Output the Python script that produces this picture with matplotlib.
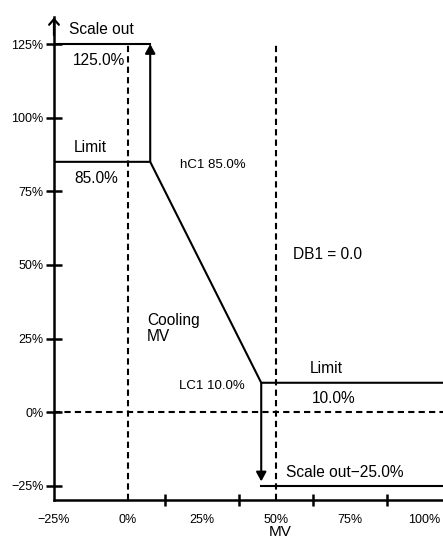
import matplotlib.pyplot as plt
import numpy as np

plt.rcParams['font.family'] = ['Liberation Sans', 'DejaVu Sans']

# Output limits and break points (MV in %)
mv_left, mv_right = -25.0, 106.4
limit_high = 85.0
limit_low = 10.0
scale_high = 125.0
scale_low = -25.0
mv_at_high = 7.5
mv_at_low = 45.0
dashed_x = [0.0, 50.0]

curve_x = [mv_left, mv_at_high, mv_at_low, mv_right]
curve_y = [limit_high, limit_high, limit_low, limit_low]

xtick_vals = [-25, 0, 25, 50, 75, 100]
xtick_labels = ['\u221225%', '0%', '25%', '50%', '75%', '100%']
xtick_marks = [12.5, 25, 37.5, 62.5, 75, 87.5, 100]
ytick_vals = [-25, 0, 25, 50, 75, 100, 125]
ytick_labels = ['\u221225%', '0%', '25%', '50%', '75%', '100%', '125%']

fig = plt.figure(figsize=(4.43, 5.43), dpi=100)
ax = fig.add_axes([54 / 443, 43 / 543, 1 - 54 / 443, (500 - 17.5) / 543])
ax.set_xlim(mv_left, mv_right)
ax.set_ylim(-29.8, 134)

lw = 1.5
# main output curve
ax.plot(curve_x, curve_y, color='black', lw=lw)
# scale out lines
ax.plot([mv_left, mv_at_high], [scale_high, scale_high], color='black', lw=lw)
ax.plot([mv_at_low, mv_right], [scale_low, scale_low], color='black', lw=lw)
# jump arrows
head = '-|>, head_length=0.55, head_width=0.3'
ax.annotate('', xy=(mv_at_high, scale_high), xytext=(mv_at_high, limit_high),
            arrowprops=dict(arrowstyle=head, color='black', lw=lw,
                            shrinkA=0, shrinkB=0, mutation_scale=10))
ax.annotate('', xy=(mv_at_low, scale_low + 1.5), xytext=(mv_at_low, limit_low),
            arrowprops=dict(arrowstyle=head, color='black', lw=lw,
                            shrinkA=0, shrinkB=0, mutation_scale=10))

# dashed reference lines
for xv in dashed_x:
    ax.plot([xv, xv], [-29.8, scale_high], color='black', lw=lw, ls=(0, (3, 2)))
ax.plot([mv_left, mv_right], [0, 0], color='black', lw=lw, ls=(0, (3, 2)))

# axes style
ax.spines['top'].set_visible(False)
ax.spines['right'].set_visible(False)
ax.spines['left'].set_linewidth(1.8)
ax.spines['bottom'].set_linewidth(1.8)
ax.annotate('', xy=(mv_left, 134), xytext=(mv_left, 128),
            arrowprops=dict(arrowstyle='->, head_length=0.4, head_width=0.35',
                            color='black', lw=1.6,
                            shrinkA=0, shrinkB=0, mutation_scale=10),
            annotation_clip=False)

ax.set_yticks(ytick_vals)
ax.set_yticklabels(ytick_labels)
ax.tick_params(axis='y', direction='inout', length=11, width=1.8, labelsize=9, pad=2)
ax.set_xticks(xtick_vals)
ax.set_xticklabels(xtick_labels)
ax.set_xticks(xtick_marks, minor=True)
ax.tick_params(axis='x', which='major', length=0, labelsize=9, pad=10)
ax.tick_params(axis='x', which='minor', direction='inout', length=8.5, width=1.8)

ax.set_xlabel('MV', fontsize=11)
ax.xaxis.set_label_coords((280 - 54) / 389, -0.052)

fs = 11.2
fs_small = 9.5
ax.text(-20, 130, 'Scale out', fontsize=fs, va='center', ha='left')
ax.text(-18.7, 119.3, '125.0%', fontsize=fs, va='center', ha='left')
ax.text(-18.2, 89.7, 'Limit', fontsize=fs, va='center', ha='left')
ax.text(-18.2, 79.4, '85.0%', fontsize=fs, va='center', ha='left')
ax.text(17.6, 83.8, 'hC1 85.0%', fontsize=fs_small, va='center', ha='left')
ax.text(55.6, 53.6, 'DB1 = 0.0', fontsize=fs, va='center', ha='left')
ax.text(6.4, 28.4, 'Cooling\nMV', fontsize=fs, va='center', ha='left', linespacing=1.15)
ax.text(39.5, 9.0, 'LC1 10.0%', fontsize=fs_small, va='center', ha='right')
ax.text(61.5, 14.8, 'Limit', fontsize=fs, va='center', ha='left')
ax.text(62.0, 4.7, '10.0%', fontsize=fs, va='center', ha='left')
ax.text(53.4, -20.6, 'Scale out\u221225.0%', fontsize=fs, va='center', ha='left')

fig.savefig('out.png', dpi=100)
